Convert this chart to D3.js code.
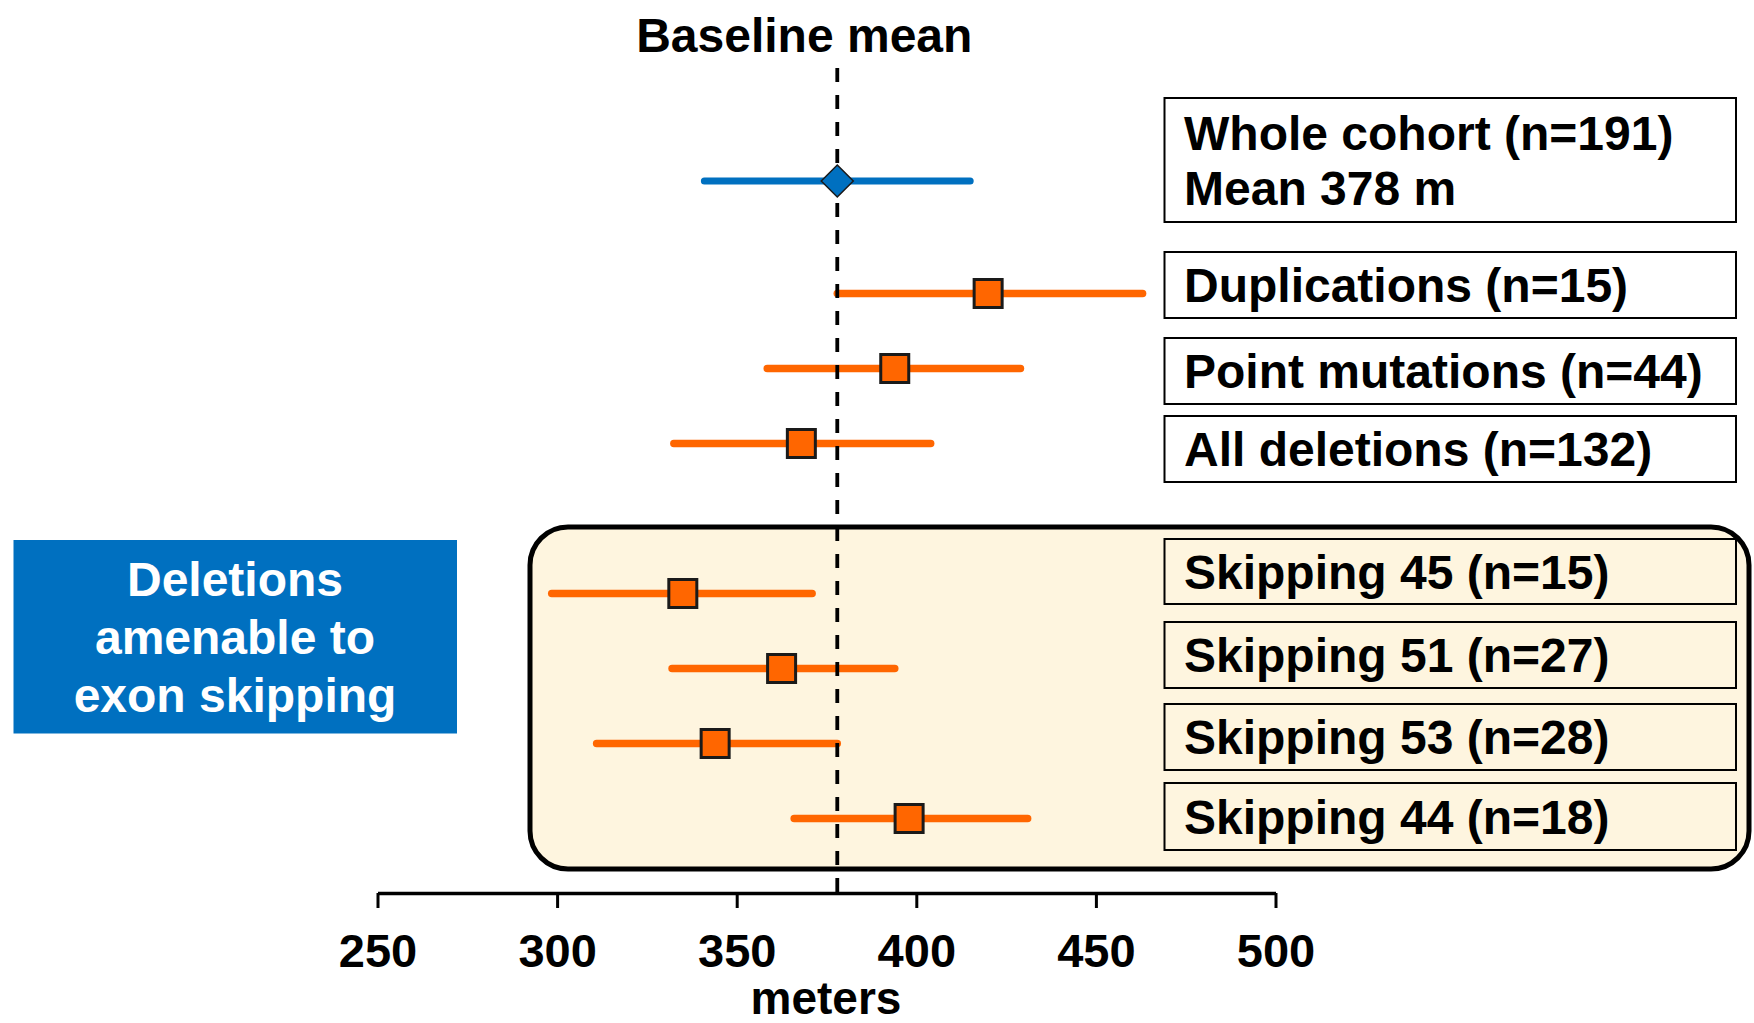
<!DOCTYPE html>
<html>
<head>
<meta charset="utf-8">
<script src="https://cdn.jsdelivr.net/npm/d3@7"></script>
<style>
  html, body { margin: 0; padding: 0; background: #fff; }
  svg { display: block; }
  text { font-family: "Liberation Sans", Arial, Helvetica, sans-serif; font-weight: bold; }
</style>
</head>
<body>
<svg id="chart" width="1754" height="1023"></svg>
<script>
// Six-minute walk distance (metres): group means with confidence intervals
const categories = [
  "Whole cohort (n=191)",
  "Duplications (n=15)",
  "Point mutations (n=44)",
  "All deletions (n=132)",
  "Skipping 45 (n=15)",
  "Skipping 51 (n=27)",
  "Skipping 53 (n=28)",
  "Skipping 44 (n=18)"
];
const groups = ["overall", "mutation", "mutation", "mutation", "skipping", "skipping", "skipping", "skipping"];
const means = [378, 420, 394, 368, 335, 362.5, 344, 398];
const lower = [341, 378, 358.5, 332.5, 298.5, 332, 311, 366];
const upper = [415, 463, 429, 404, 371, 394, 378, 431];
const baselineMean = 378;
const tickValues = [250, 300, 350, 400, 450, 500];
const axisTitle = "meters";
const refTitle = "Baseline mean";
const groupNote = ["Deletions", "amenable to", "exon skipping"];

const BLUE = "#0070C0", ORANGE = "#FF6600", CREAM = "#FEF5DF";

const svg = d3.select("#chart");

const x = d3.scaleLinear().domain([250, 500]).range([377.5, 1275.5]);

// Row slots: extra space after the whole-cohort row and before the skipping group
const slots = [];
{
  let s = 0;
  groups.forEach((g, i) => {
    if (i > 0) {
      s += 1;
      if (g !== groups[i - 1]) s += (g === "skipping" ? 1 : 0.5);
    }
    slots.push(s);
  });
}
const y = d3.scaleLinear().domain([0, 1]).range([181, 256]);

const rows = categories.map((c, i) => ({
  name: c, group: groups[i], mean: means[i], lo: lower[i], hi: upper[i], slot: slots[i]
}));

// Highlight panel behind the exon-skipping rows
svg.append("rect")
  .attr("x", 530).attr("y", 527)
  .attr("width", 1219).attr("height", 342)
  .attr("rx", 38).attr("ry", 38)
  .attr("fill", CREAM).attr("stroke", "#000").attr("stroke-width", 5);

// Blue note box
const note = svg.append("g");
note.append("rect")
  .attr("x", 13.5).attr("y", 540).attr("width", 443.5).attr("height", 193.5)
  .attr("fill", BLUE);
note.selectAll("text").data(groupNote).join("text")
  .attr("x", 235).attr("y", (d, i) => 596 + i * 58)
  .attr("text-anchor", "middle").attr("font-size", 48).attr("fill", "#fff")
  .text(d => d);

// Confidence interval lines
svg.append("g").selectAll("line").data(rows).join("line")
  .attr("x1", d => x(d.lo)).attr("x2", d => x(d.hi))
  .attr("y1", d => y(d.slot)).attr("y2", d => y(d.slot))
  .attr("stroke", d => d.group === "overall" ? BLUE : ORANGE)
  .attr("stroke-width", d => d.group === "overall" ? 7 : 7.5)
  .attr("stroke-linecap", "round");

// Baseline mean reference line
svg.append("line")
  .attr("x1", x(baselineMean)).attr("x2", x(baselineMean))
  .attr("y1", 68).attr("y2", 893)
  .attr("stroke", "#000").attr("stroke-width", 3.8)
  .attr("stroke-dasharray", "14,13");

svg.append("text")
  .attr("x", x(baselineMean) - 33).attr("y", 52)
  .attr("text-anchor", "middle").attr("font-size", 48)
  .text(refTitle);

// Mean markers
const markers = svg.append("g");
markers.selectAll("path.diamond").data(rows.filter(d => d.group === "overall")).join("path")
  .attr("class", "diamond")
  .attr("d", d => {
    const cx = x(d.mean), cy = y(d.slot), r = 16;
    return `M${cx},${cy - r}L${cx + r},${cy}L${cx},${cy + r}L${cx - r},${cy}Z`;
  })
  .attr("fill", BLUE).attr("stroke", "#1a1a1a").attr("stroke-width", 1.5);
markers.selectAll("rect.sq").data(rows.filter(d => d.group !== "overall")).join("rect")
  .attr("class", "sq")
  .attr("x", d => x(d.mean) - 14).attr("y", d => y(d.slot) - 14)
  .attr("width", 28).attr("height", 28)
  .attr("fill", ORANGE).attr("stroke", "#1a1a1a").attr("stroke-width", 3);

// Category label boxes
const boxTops = [98, 252, 338, 416, 539, 622, 704, 783];
const boxHeights = [124, 66, 66, 66, 65, 66, 66, 67];
const labels = svg.append("g");
rows.forEach((d, i) => {
  const g = labels.append("g");
  g.append("rect")
    .attr("x", 1164.5).attr("y", boxTops[i])
    .attr("width", 571.5).attr("height", boxHeights[i])
    .attr("fill", d.group === "skipping" ? CREAM : "#fff")
    .attr("stroke", "#000").attr("stroke-width", 2);
  const lines = d.group === "overall" ? [d.name, `Mean ${baselineMean} m`] : [d.name];
  const firstBase = d.group === "overall" ? boxTops[i] + 52 : boxTops[i] + boxHeights[i] / 2 + 17;
  g.selectAll("text").data(lines).join("text")
    .attr("x", 1184).attr("y", (t, k) => firstBase + k * 55)
    .attr("font-size", 48).text(t => t);
});

// X axis
const axis = svg.append("g")
  .attr("transform", "translate(0,893)")
  .call(d3.axisBottom(x).tickValues(tickValues).tickSize(15).tickSizeOuter(0).tickPadding(14));
axis.select(".domain").attr("stroke", "#000").attr("stroke-width", 3.3);
axis.selectAll(".tick line").attr("stroke", "#000").attr("stroke-width", 3);
axis.selectAll(".tick text")
  .attr("font-size", 47).attr("font-family", "'Liberation Sans', Arial, sans-serif")
  .attr("font-weight", "bold").attr("fill", "#000")
  .attr("dy", null).attr("y", 74);

svg.append("text")
  .attr("x", 826).attr("y", 1014)
  .attr("text-anchor", "middle").attr("font-size", 46)
  .text(axisTitle);
</script>
</body>
</html>
